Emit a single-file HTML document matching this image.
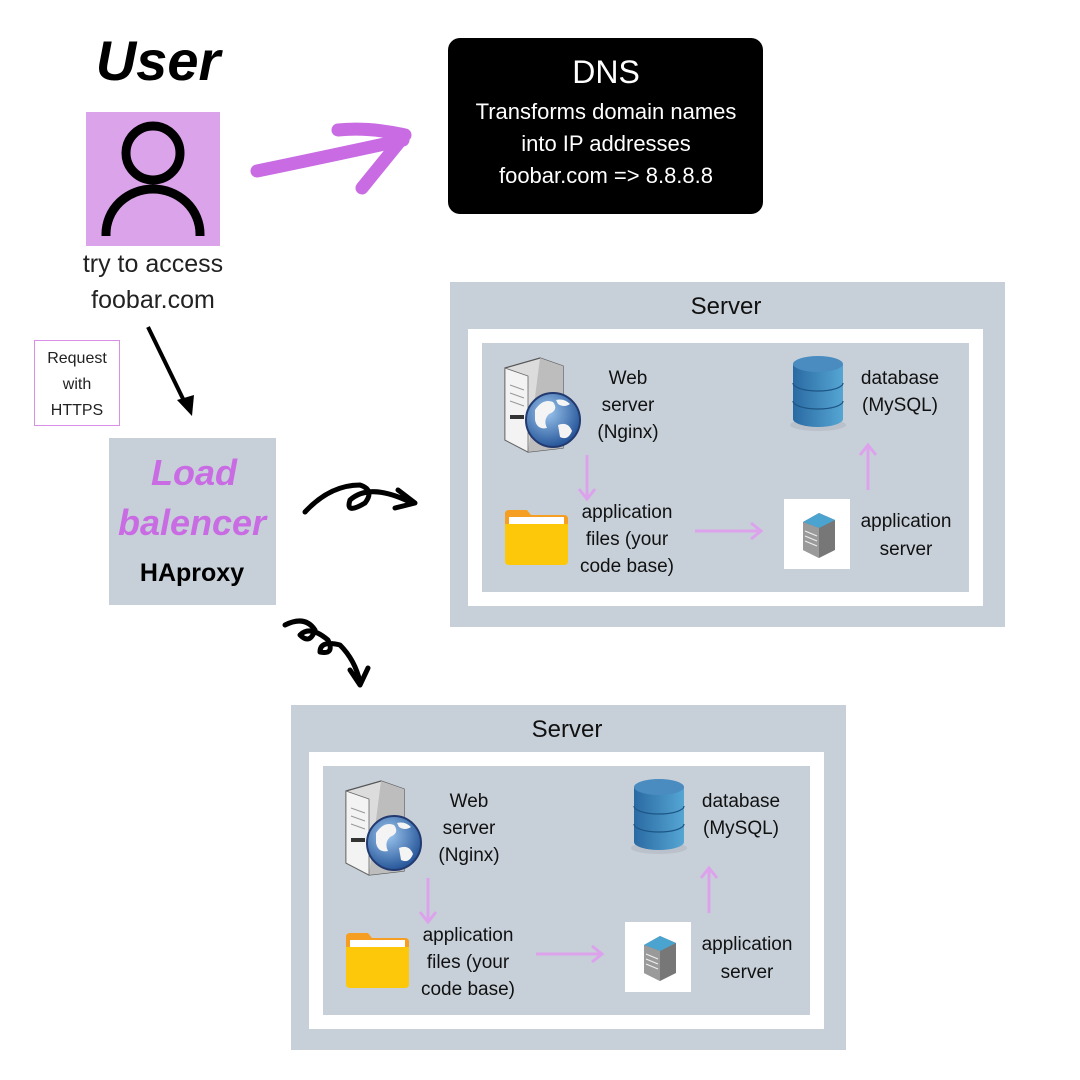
<!DOCTYPE html>
<html><head><meta charset="utf-8"><style>
html,body{margin:0;padding:0;background:#fff;width:1080px;height:1080px;overflow:hidden}
svg{display:block}
text{font-family:"Liberation Sans",sans-serif}
</style></head><body>
<svg width="1080" height="1080" viewBox="0 0 1080 1080" xmlns="http://www.w3.org/2000/svg">
<defs>
<linearGradient id="dbg" x1="0" x2="1"><stop offset="0" stop-color="#2a6aa3"/><stop offset="1" stop-color="#55a6d3"/></linearGradient>
<radialGradient id="glb" cx="0.4" cy="0.35" r="0.7"><stop offset="0" stop-color="#9cc6ee"/><stop offset="1" stop-color="#1f4f94"/></radialGradient>
<g id="inner">
  <path d="M505 368 L540 358 L563 366 L563 448 L528 452 L505 440 Z" fill="#dcdcdc" stroke="#555" stroke-width="1.2"/>
  <path d="M540 358 L563 366 L563 448 L528 452 Z" fill="#bdbdbd"/>
  <path d="M505 368 L528 376 L528 452 L505 440 Z" fill="#f3f3f3" stroke="#666" stroke-width="0.8"/>
  <line x1="510" y1="385" x2="524" y2="390" stroke="#999"/><line x1="510" y1="393" x2="524" y2="398" stroke="#999"/><line x1="510" y1="401" x2="524" y2="406" stroke="#999"/>
  <rect x="510" y="415" width="14" height="4" fill="#333"/>
  <circle cx="553" cy="420" r="27" fill="url(#glb)" stroke="#233a70" stroke-width="2"/>
  <path d="M535 410 q8 -12 18 -8 q6 8 -4 12 q-6 6 -2 14 q-10 2 -12 -8 Z M558 425 q10 -4 14 6 q-4 10 -12 6 Z M556 400 q8 -2 14 4 q-6 4 -12 0Z" fill="#f4f4f4"/>
  <line x1="587" y1="455" x2="587" y2="498" stroke="#dca2ec" stroke-width="3"/>
  <polyline points="579,489 587,499 595,489" fill="none" stroke="#dca2ec" stroke-width="3"/>
  <path d="M505 514 q0 -4 4 -4 h18 l4 5 h33 q4 0 4 4 v10 h-63 Z" fill="#f59e22"/>
  <rect x="509" y="517" width="55" height="14" fill="#fff"/>
  <path d="M505 524 h63 v37 q0 4 -4 4 h-55 q-4 0 -4 -4 Z" fill="#fdc70a"/>
  <g font-family="Liberation Sans" font-size="19" fill="#111" text-anchor="middle">
    <text x="628" y="384">Web</text><text x="628" y="411">server</text><text x="628" y="438">(Nginx)</text>
    <text x="627" y="518">application</text><text x="627" y="545">files (your</text><text x="627" y="572">code base)</text>
    <text x="906" y="527">application</text><text x="906" y="555">server</text>
    <text x="900" y="384">database</text><text x="900" y="411">(MySQL)</text>
  </g>
  <line x1="695" y1="531" x2="760" y2="531" stroke="#dca2ec" stroke-width="3"/>
  <polyline points="751,523 761,531 751,539" fill="none" stroke="#dca2ec" stroke-width="3"/>
  <rect x="784" y="499" width="66" height="70" fill="#fff"/>
  <path d="M803 522 L819 513 L835 520 L835 550 L819 558 L803 550 Z" fill="#777"/>
  <path d="M803 522 L819 513 L835 520 L819 528 Z" fill="#4ba3d0"/>
  <path d="M803 522 L819 528 L819 558 L803 550 Z" fill="#9a9a9a"/>
  <g stroke="#eee" stroke-width="1.2"><line x1="805" y1="531" x2="817" y2="536"/><line x1="805" y1="536" x2="817" y2="541"/><line x1="805" y1="541" x2="817" y2="546"/></g>
  <line x1="868" y1="490" x2="868" y2="446" stroke="#dca2ec" stroke-width="3"/>
  <polyline points="860,455 868,445 876,455" fill="none" stroke="#dca2ec" stroke-width="3"/>
  <ellipse cx="818" cy="425" rx="28" ry="6" fill="#b0b8c2" opacity="0.6"/>
  <path d="M793 364 v55 a25 8 0 0 0 50 0 v-55 Z" fill="url(#dbg)"/>
  <ellipse cx="818" cy="364" rx="25" ry="8" fill="#4a8cc0"/>
  <path d="M793 383 a25 8 0 0 0 50 0 M793 401 a25 8 0 0 0 50 0" fill="none" stroke="#1d5585" stroke-width="1.2"/>
</g>
</defs>

<text x="158" y="80" font-family="Liberation Serif" font-style="italic" font-weight="bold" font-size="56" text-anchor="middle" fill="#000">User</text>
<rect x="86" y="112" width="134" height="134" fill="#dba3ea"/>
<circle cx="153" cy="153" r="27" fill="none" stroke="#000" stroke-width="9"/>
<path d="M106 236 v-2 a47 45 0 0 1 94 0 v2" fill="none" stroke="#000" stroke-width="9"/>
<g font-size="25" fill="#222" text-anchor="middle"><text x="153" y="272">try to access</text><text x="153" y="308">foobar.com</text></g>

<path d="M257 171 Q320 158 403 140 M338 130 Q370 127 405 135 L362 188" fill="none" stroke="#c96be3" stroke-width="13" stroke-linecap="round" stroke-linejoin="round"/>

<rect x="448" y="38" width="315" height="176" rx="12" fill="#000"/>
<g fill="#fff" text-anchor="middle"><text x="606" y="83" font-size="32">DNS</text>
<g font-size="22"><text x="606" y="119">Transforms domain names</text><text x="606" y="151">into IP addresses</text><text x="606" y="183">foobar.com =&gt; 8.8.8.8</text></g></g>

<rect x="34.5" y="340.5" width="85" height="85" fill="#fff" stroke="#d98ee8" stroke-width="1"/>
<g font-size="16" fill="#222" text-anchor="middle"><text x="77" y="363">Request</text><text x="77" y="389">with</text><text x="77" y="415">HTTPS</text></g>

<line x1="148" y1="327" x2="186" y2="405" stroke="#000" stroke-width="4"/>
<path d="M177 400 L192 416 L194 395 Z" fill="#000"/>

<rect x="109" y="438" width="167" height="167" fill="#c7d0d9"/>
<g font-family="Liberation Serif" font-style="italic" font-weight="bold" font-size="36" fill="#c96be3" text-anchor="middle"><text x="194" y="485">Load</text><text x="192" y="535">balencer</text></g>
<text x="192" y="581" font-size="25" font-weight="bold" fill="#000" text-anchor="middle">HAproxy</text>

<path d="M305 512 Q330 485 360 485 Q375 490 365 503 Q345 515 350 500 Q370 482 412 503 M398 490 L415 503 L395 508" fill="none" stroke="#000" stroke-width="5" stroke-linecap="round" stroke-linejoin="round"/>
<path d="M285 625 Q305 615 315 630 Q310 645 300 635 Q310 625 328 640 Q335 655 320 652 Q320 640 340 645 Q355 660 360 682 M350 670 L360 685 L368 668" fill="none" stroke="#000" stroke-width="5" stroke-linecap="round" stroke-linejoin="round"/>

<rect x="450" y="282" width="555" height="345" fill="#c7d0d9"/>
<rect x="468" y="329" width="515" height="277" fill="#fff"/>
<rect x="482" y="343" width="487" height="249" fill="#c7d0d9"/>
<text x="726" y="314" font-size="24" fill="#111" text-anchor="middle">Server</text>
<use href="#inner"/>

<rect x="291" y="705" width="555" height="345" fill="#c7d0d9"/>
<rect x="309" y="752" width="515" height="277" fill="#fff"/>
<rect x="323" y="766" width="487" height="249" fill="#c7d0d9"/>
<text x="567" y="737" font-size="24" fill="#111" text-anchor="middle">Server</text>
<use href="#inner" transform="translate(-159,423)"/>
</svg>
</body></html>
